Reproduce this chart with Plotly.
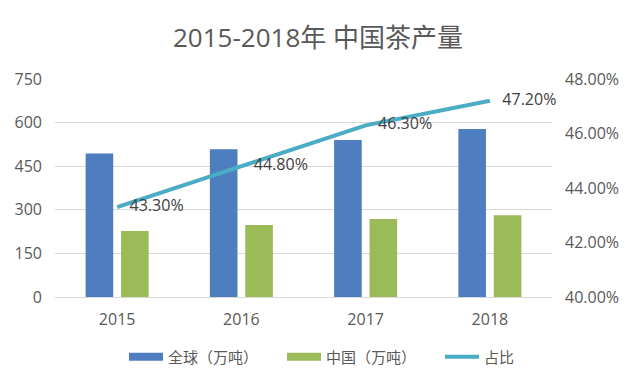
import plotly.graph_objects as go

years = ["2015", "2016", "2017", "2018"]
global_output = [494, 508, 540, 578]
china_output = [227, 248, 268, 281]
share = [0.433, 0.448, 0.463, 0.472]
share_labels = ["43.30%", "44.80%", "46.30%", "47.20%"]

font_family = "Open Sans, Noto Sans CJK SC, sans-serif"
text_color = "#595959"
blue = "#4F7EC0"
green = "#9BBB59"
teal = "#4BACC6"

fig = go.Figure()
fig.add_trace(go.Bar(x=years, y=global_output, name="全球（万吨）", showlegend=False,
                     marker=dict(color=blue, line=dict(width=0))))
fig.add_trace(go.Bar(x=years, y=china_output, name="中国（万吨）", showlegend=False,
                     marker=dict(color=green, line=dict(width=0))))
fig.add_trace(go.Scatter(x=years, y=share, name="占比", yaxis="y2",
                         mode="lines+text", text=share_labels,
                         texttemplate="\u00a0\u00a0\u00a0%{text}",
                         textposition="middle right", showlegend=False,
                         textfont=dict(size=16, color="#404040", family=font_family),
                         line=dict(color=teal, width=4), cliponaxis=False))
# legend entries (wide swatches like the reference)
fig.add_trace(go.Scatter(x=[None], y=[None], mode="lines", name="全球（万吨）",
                         line=dict(color=blue, width=8)))
fig.add_trace(go.Scatter(x=[None], y=[None], mode="lines", name="中国（万吨）",
                         line=dict(color=green, width=8)))
fig.add_trace(go.Scatter(x=[None], y=[None], mode="lines", name="占比",
                         line=dict(color=teal, width=4)))

fig.update_layout(
    width=632, height=377,
    margin=dict(l=47, r=88, t=71, b=88, autoexpand=False),
    paper_bgcolor="white", plot_bgcolor="white",
    font=dict(family=font_family, color=text_color, size=16),
    title=dict(text="2015-2018年 中国茶产量", x=(318 - 8) / 632, xanchor="center",
               y=1 - 30 / 377, yref="container", yanchor="middle",
               font=dict(size=26, color=text_color, family=font_family)),
    barmode="group", bargap=0.43, bargroupgap=0.22,
    xaxis=dict(type="category", range=[-0.5, 3.5], showgrid=False, showline=True,
               linecolor="#D9D9D9", linewidth=1, ticks="", automargin=False,
               ticklabelstandoff=8, tickfont=dict(size=16, color=text_color)),
    yaxis=dict(range=[0, 750], dtick=150, showgrid=True, gridcolor="#D9D9D9",
               gridwidth=1, zeroline=False, ticks="", automargin=False,
               ticklabelstandoff=12, tickfont=dict(size=16, color=text_color)),
    yaxis2=dict(range=[0.40, 0.48], dtick=0.02, tickformat=".2%", overlaying="y",
                side="right", showgrid=False, zeroline=False, ticks="",
                automargin=False, ticklabelstandoff=12,
                tickfont=dict(size=16, color=text_color)),
    legend=dict(orientation="h", x=(116 - 47) / 497, xanchor="left", y=-0.275,
                yanchor="middle", font=dict(size=15, color=text_color),
                traceorder="normal", itemwidth=34, entrywidth=109),
)

fig.write_html("out.html")
